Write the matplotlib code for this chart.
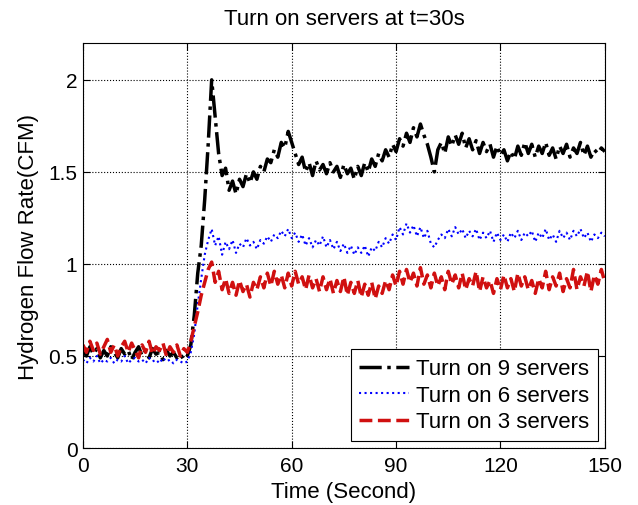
import matplotlib.pyplot as plt
import numpy as np

plt.rcParams['font.family'] = ['Liberation Sans', 'DejaVu Sans']

t = np.arange(0, 151)

# turn on 9 servers
nine = [0.53, 0.50, 0.55, 0.51, 0.54, 0.49, 0.53, 0.50, 0.55, 0.52,
        0.49, 0.54, 0.51, 0.53, 0.48, 0.52, 0.55, 0.50, 0.53, 0.49,
        0.54, 0.51, 0.52, 0.48, 0.53, 0.50, 0.52, 0.49, 0.51, 0.48,
        0.50, 0.56, 0.72, 0.95, 1.10, 1.35, 1.65, 2.00, 1.80, 1.60,
        1.48, 1.52, 1.40, 1.45, 1.38, 1.46, 1.42, 1.49, 1.44, 1.50,
        1.46, 1.53, 1.50, 1.57, 1.55, 1.62, 1.58, 1.66, 1.63, 1.72,
        1.66, 1.60, 1.54, 1.58, 1.50, 1.55, 1.48, 1.56, 1.51, 1.54,
        1.49, 1.55, 1.50, 1.53, 1.47, 1.54, 1.49, 1.52, 1.46, 1.53,
        1.48, 1.55, 1.50, 1.57, 1.53, 1.60, 1.56, 1.62, 1.58, 1.65,
        1.61, 1.68, 1.64, 1.71, 1.66, 1.74, 1.69, 1.76, 1.70, 1.65,
        1.58, 1.50, 1.62, 1.66, 1.60, 1.69, 1.64, 1.70, 1.65, 1.71,
        1.63, 1.68, 1.62, 1.67, 1.60, 1.66, 1.61, 1.65, 1.58, 1.64,
        1.59, 1.62, 1.56, 1.61, 1.57, 1.64, 1.59, 1.66, 1.60, 1.65,
        1.58, 1.64, 1.60, 1.66, 1.59, 1.63, 1.57, 1.64, 1.60, 1.65,
        1.58, 1.63, 1.60, 1.66, 1.59, 1.64, 1.58, 1.62, 1.60, 1.63,
        1.61]

# turn on 6 servers
six = [0.48, 0.46, 0.49, 0.47, 0.50, 0.46, 0.48, 0.47, 0.49, 0.46,
       0.48, 0.47, 0.50, 0.46, 0.48, 0.49, 0.47, 0.48, 0.46, 0.49,
       0.47, 0.48, 0.46, 0.49, 0.47, 0.48, 0.46, 0.48, 0.47, 0.46,
       0.47, 0.52, 0.62, 0.78, 0.92, 1.05, 1.13, 1.19, 1.10, 1.15,
       1.05, 1.12, 1.08, 1.13, 1.06, 1.11, 1.09, 1.14, 1.10, 1.12,
       1.08, 1.13, 1.11, 1.15, 1.12, 1.16, 1.14, 1.18, 1.15, 1.19,
       1.14, 1.17, 1.12, 1.16, 1.10, 1.14, 1.09, 1.13, 1.10, 1.15,
       1.09, 1.13, 1.08, 1.12, 1.07, 1.11, 1.06, 1.10, 1.05, 1.09,
       1.06, 1.10, 1.04, 1.09, 1.07, 1.12, 1.09, 1.14, 1.11, 1.16,
       1.13, 1.20, 1.16, 1.22, 1.17, 1.21, 1.15, 1.20, 1.14, 1.18,
       1.11, 1.09, 1.13, 1.16, 1.14, 1.19, 1.15, 1.20, 1.16, 1.19,
       1.14, 1.18, 1.15, 1.19, 1.13, 1.17, 1.14, 1.18, 1.12, 1.17,
       1.13, 1.16, 1.12, 1.17, 1.14, 1.18, 1.13, 1.17, 1.15, 1.18,
       1.12, 1.17, 1.14, 1.19, 1.13, 1.16, 1.12, 1.18, 1.14, 1.17,
       1.13, 1.18, 1.15, 1.19, 1.14, 1.17, 1.12, 1.16, 1.14, 1.17,
       1.15]

# turn on 3 servers
three = [0.56, 0.52, 0.58, 0.53, 0.57, 0.51, 0.55, 0.59, 0.52, 0.56,
         0.50, 0.55, 0.58, 0.52, 0.57, 0.53, 0.49, 0.56, 0.52, 0.58,
         0.51, 0.55, 0.53, 0.57, 0.50, 0.55, 0.52, 0.56, 0.50, 0.54,
         0.52, 0.58, 0.66, 0.74, 0.83, 0.90, 0.97, 1.01, 0.90, 0.96,
         0.86, 0.92, 0.84, 0.90, 0.83, 0.91, 0.85, 0.89, 0.82, 0.90,
         0.86, 0.93, 0.87, 0.95, 0.88, 0.96, 0.89, 0.94, 0.87, 0.95,
         0.88, 0.96, 0.89, 0.93, 0.86, 0.94, 0.87, 0.92, 0.85, 0.93,
         0.86, 0.92, 0.84, 0.91, 0.85, 0.93, 0.83, 0.90, 0.84, 0.91,
         0.82, 0.89, 0.83, 0.90, 0.81, 0.88, 0.84, 0.91, 0.86, 0.94,
         0.88, 0.96, 0.89, 0.97, 0.90, 0.95, 0.88, 0.98, 0.89, 0.94,
         0.87, 0.95, 0.88, 0.93, 0.86, 0.96, 0.89, 0.94, 0.87, 0.95,
         0.86, 0.92, 0.88, 0.96, 0.85, 0.93, 0.87, 0.91, 0.84, 0.92,
         0.86, 0.94, 0.87, 0.92, 0.85, 0.95, 0.88, 0.93, 0.86, 0.91,
         0.84, 0.92, 0.87, 0.96, 0.86, 0.93, 0.88, 0.95, 0.85, 0.92,
         0.87, 0.97, 0.86, 0.93, 0.88, 0.96, 0.85, 0.94, 0.89, 0.97,
         0.90]

fig = plt.figure(figsize=(6.38, 5.06), dpi=100)
ax = fig.add_axes([0.130, 0.1126, 0.818, 0.8004])

ax.plot(t, nine, color='black', linestyle='-.', linewidth=2.5, label='Turn on 9 servers')
ax.plot(t, six, color='blue', linestyle=':', linewidth=1.5, label='Turn on 6 servers')
ax.plot(t, three, color='#d01010', linestyle='--', linewidth=2.5, label='Turn on 3 servers')

ax.set_xlim(0, 150)
ax.set_ylim(0, 2.2)
ax.set_xticks([0, 30, 60, 90, 120, 150])
ax.set_yticks([0, 0.5, 1, 1.5, 2])
ax.set_yticklabels(['0', '0.5', '1', '1.5', '2'])
ax.tick_params(direction='in', labelsize=15, length=5, top=True, right=True)
ax.tick_params(axis='x', pad=6)
ax.tick_params(axis='y', pad=4)
ax.grid(True, color='black', linestyle=':', linewidth=0.8)

ax.set_title('Turn on servers at t=30s', fontsize=16, pad=14)
ax.set_xlabel('Time (Second)', fontsize=16, labelpad=4)
ax.set_ylabel('Hydrogen Flow Rate(CFM)', fontsize=16, labelpad=7)

leg = ax.legend(loc='lower right', fontsize=16, fancybox=False, framealpha=1,
                edgecolor='black', handlelength=2.25, borderpad=0.4,
                labelspacing=0.25, handletextpad=0.3, borderaxespad=0.3)
leg.get_frame().set_linewidth(0.8)

fig.savefig('out.png', dpi=100)
